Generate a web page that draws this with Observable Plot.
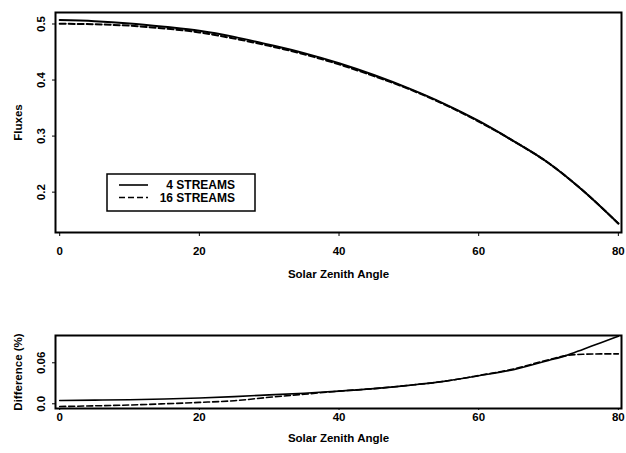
<!DOCTYPE html>
<html><head><meta charset="utf-8">
<script src="https://cdn.jsdelivr.net/npm/d3@7"></script>
<script src="https://cdn.jsdelivr.net/npm/@observablehq/plot@0.6"></script>
<style>
body{margin:0;background:#fff;}
#chart{width:626px;height:453px;position:relative;background:#fff;}
#chart svg{display:block;}
</style></head><body><div id="chart"></div>
<script>
// ---- data ----
const angles = [0,5,10,15,20,25,30,35,40,45,50,55,60,65,70,75,80];
const flux4  = [0.507,0.505,0.501,0.495,0.488,0.477,0.463,0.448,0.430,0.409,0.385,0.358,0.327,0.291,0.252,0.202,0.144];
const flux16 = [0.5005,0.4995,0.497,0.492,0.485,0.474,0.461,0.446,0.428,0.407,0.384,0.357,0.326,0.291,0.252,0.202,0.144];
const diffAngles = [0,5,10,15,20,25,30,35,40,45,50,55,60,65,70,72.5,75,77.5,80];
const diff4  = [0.0048,0.0053,0.006,0.007,0.0085,0.0105,0.013,0.0155,0.0185,0.0222,0.027,0.0328,0.041,0.050,0.0635,0.0705,0.080,0.0895,0.099];
const diff16 = [-0.004,-0.003,-0.0018,0.0,0.002,0.0045,0.0095,0.014,0.0185,0.0222,0.027,0.0328,0.0414,0.051,0.0645,0.0705,0.0725,0.073,0.073];
const seriesNames = ["4 STREAMS","16 STREAMS"];
const xTicks = [0,20,40,60,80];
const fluxTicks = [0.2,0.3,0.4,0.5];
const diffTicks = [0,0.06];
const diffTickLabels = ["0.0","0.06"];

const fluxSeries = [flux4, flux16].map((vals,i)=>angles.map((a,j)=>({angle:a, value:vals[j], series:seriesNames[i]})));
const diffSeries = [diff4, diff16].map((vals,i)=>diffAngles.map((a,j)=>({angle:a, value:vals[j], series:seriesNames[i]})));

const font = "'Liberation Sans', Arial, Helvetica, sans-serif";
const dash = "6,3";
const common = {
  width: 626, marginLeft: 55, marginRight: 5,
  style: {fontFamily: font, fontWeight: "bold", fontSize: "11px", color: "#000", background: "#fff", overflow: "visible"}
};
const xDomain = [-0.6, 80.45];

const topPlot = Plot.plot({
  ...common,
  height: 300, marginTop: 12, marginBottom: 68,
  x: {domain: xDomain},
  y: {domain: [0.128, 0.5205]},
  marks: [
    Plot.axisX({ticks: xTicks, tickSize: 4, tickPadding: 10, label: "Solar Zenith Angle", labelAnchor: "center", labelOffset: 45, labelArrow: "none"}),
    Plot.axisY({ticks: fluxTicks, tickSize: 3, tickRotate: -90, tickPadding: 8, tickFormat: d3.format(".1f"), label: "Fluxes", labelAnchor: "center", labelOffset: 42, labelArrow: "none"}),
    Plot.line(fluxSeries[0], {x: "angle", y: "value", stroke: "#000", strokeWidth: 2, curve: "monotone-x"}),
    Plot.line(fluxSeries[1], {x: "angle", y: "value", stroke: "#000", strokeWidth: 2, strokeDasharray: dash, curve: "monotone-x"}),
    Plot.frame({stroke: "#000", strokeWidth: 2})
  ]
});

const bottomPlot = Plot.plot({
  ...common,
  height: 153, marginTop: 35, marginBottom: 45,
  x: {domain: xDomain},
  y: {domain: [-0.0069, 0.09995]},
  marks: [
    Plot.axisX({ticks: xTicks, tickSize: 2, tickPadding: 2, label: "Solar Zenith Angle", labelAnchor: "center", labelOffset: 33, labelArrow: "none"}),
    Plot.axisY({ticks: diffTicks, tickSize: 3, tickRotate: -90, tickPadding: 8, tickFormat: d => diffTickLabels[diffTicks.indexOf(d)], label: "Difference (%)", labelAnchor: "center", labelOffset: 42, labelArrow: "none"}),
    Plot.line(diffSeries[0], {x: "angle", y: "value", stroke: "#000", strokeWidth: 1.6, curve: "monotone-x"}),
    Plot.line(diffSeries[1], {x: "angle", y: "value", stroke: "#000", strokeWidth: 1.6, strokeDasharray: dash, curve: "monotone-x"}),
    Plot.frame({stroke: "#000", strokeWidth: 2})
  ]
});

for (const svg of [topPlot, bottomPlot]) {
  d3.select(svg).selectAll("g[aria-label$='label'] text").style("font-size", "11.5px");
}

// legend inside top panel
const lg = d3.select(topPlot).append("g").attr("class", "legend")
  .style("font-family", font).style("font-weight", "bold").style("font-size", "12px");
lg.append("rect").attr("x", 107).attr("y", 174).attr("width", 148).attr("height", 37)
  .attr("fill", "#fff").attr("stroke", "#000").attr("stroke-width", 1.5);
seriesNames.forEach((name, i) => {
  const yy = 185 + i * 12.5;
  lg.append("line").attr("x1", 119).attr("x2", 148).attr("y1", yy).attr("y2", yy)
    .attr("stroke", "#000").attr("stroke-width", 1.6).attr("stroke-dasharray", i ? dash : null);
  lg.append("text").attr("x", 235).attr("y", yy + 4.3).attr("text-anchor", "end").attr("fill", "#000").text(name);
});

const chart = document.getElementById("chart");
chart.appendChild(topPlot);
chart.appendChild(bottomPlot);
</script>
</body></html>
